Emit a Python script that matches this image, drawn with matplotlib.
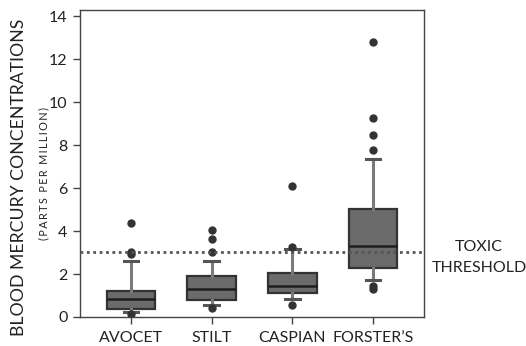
import matplotlib
matplotlib.use("Agg")
import matplotlib.pyplot as plt

categories = ["AVOCET", "STILT", "CASPIAN", "FORSTER\u2019S"]
q1 = [0.38, 0.77, 1.13, 2.28]
median = [0.85, 1.32, 1.44, 3.33]
q3 = [1.21, 1.92, 2.07, 5.05]
whis_lo = [0.25, 0.58, 0.82, 1.71]
whis_hi = [2.59, 2.59, 3.17, 7.38]
fliers = [
    [4.40, 3.05, 2.92, 0.12],
    [4.03, 3.64, 3.01, 0.42],
    [6.08, 3.25, 0.58],
    [12.83, 9.25, 8.46, 7.76, 1.44, 1.29],
]
threshold = 3.05
yticks = [0, 2, 4, 6, 8, 10, 12, 14]

plt.rcParams['font.family'] = ['Lato', 'DejaVu Sans']

fig = plt.figure(figsize=(5.26, 3.46), dpi=100)
ax = fig.add_axes([80/526, 1-317/346, (424-80)/526, (317-10)/346])

stats = []
for i, c in enumerate(categories):
    stats.append(dict(label=c, q1=q1[i], med=median[i], q3=q3[i],
                      whislo=whis_lo[i], whishi=whis_hi[i], fliers=fliers[i]))

positions = list(range(len(categories)))
ax.bxp(stats, positions=positions, widths=0.6, capwidths=0.18,
       patch_artist=True,
       boxprops=dict(facecolor='#6b6b6b', edgecolor='#333333', linewidth=1.6),
       medianprops=dict(color='#1e1e1e', linewidth=1.8),
       whiskerprops=dict(color='#7a7a7a', linewidth=2.2),
       capprops=dict(color='#555555', linewidth=2.2),
       flierprops=dict(marker='o', markersize=5, markerfacecolor='#333333',
                       markeredgecolor='#333333'))

ax.axhline(threshold, color='#555555', linewidth=2, linestyle=(0, (1, 1.3)), zorder=5)

ax.set_xlim(-0.63, 3.63)
ax.set_ylim(0, 14.3)
ax.set_yticks(yticks)
ax.set_yticklabels([str(t) for t in yticks])
ax.set_xticks(positions)
ax.set_xticklabels(categories)
ax.tick_params(axis='both', direction='out', length=5, width=1, color='#444444',
               labelcolor='#222222', labelsize=11.5)
ax.tick_params(axis='x', pad=5)
ax.tick_params(axis='y', pad=4)
for s in ax.spines.values():
    s.set_color('#444444')
    s.set_linewidth(1)

sub = "\u2009".join("(PARTS PER MILLION)")
fig.text(19/526, 1-177/346, "BLOOD MERCURY CONCENTRATIONS", rotation=90,
         ha='center', va='center', fontsize=12.7, color='#222222')
fig.text(44/526, 1-174/346, sub, rotation=90,
         ha='center', va='center', fontsize=7.8, color='#222222')
fig.text(479/526, 1-247/346, "TOXIC", ha='center', va='center',
         fontsize=11.5, color='#222222')
fig.text(479/526, 1-268/346, "THRESHOLD", ha='center', va='center',
         fontsize=11.5, color='#222222')

fig.savefig("out.png", dpi=100)
